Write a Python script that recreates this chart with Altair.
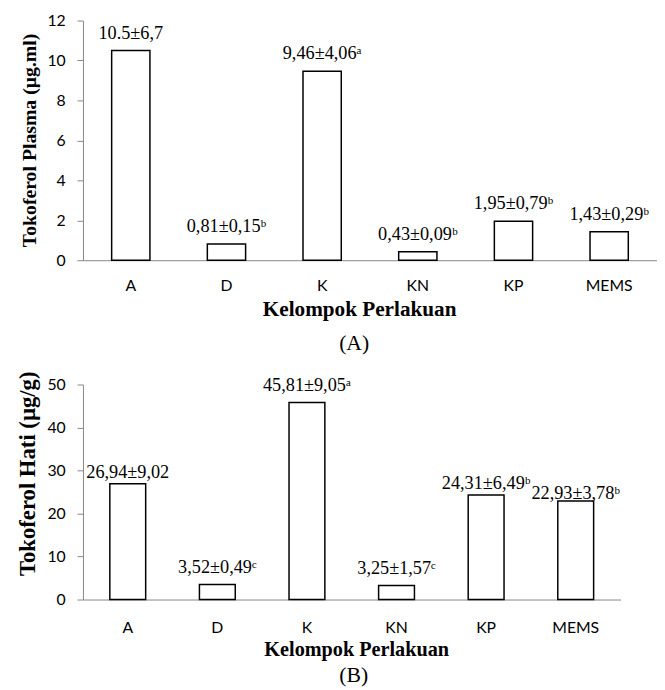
import altair as alt
import pandas as pd

groups = ["A", "D", "K", "KN", "KP", "MEMS"]
plasma = [10.5, 0.81, 9.46, 0.43, 1.95, 1.43]
plasma_labels = ["10.5±6,7", "0,81±0,15ᵇ", "9,46±4,06ᵃ", "0,43±0,09ᵇ", "1,95±0,79ᵇ", "1,43±0,29ᵇ"]
hati = [26.94, 3.52, 45.81, 3.25, 24.31, 22.93]
hati_labels = ["26,94±9,02", "3,52±0,49ᶜ", "45,81±9,05ᵃ", "3,25±1,57ᶜ", "24,31±6,49ᵇ", "22,93±3,78ᵇ"]
plasma_ticks = [0, 2, 4, 6, 8, 10, 12]
hati_ticks = [0, 10, 20, 30, 40, 50]

df_a = pd.DataFrame({"g": groups, "v": plasma, "lab": plasma_labels})
df_b = pd.DataFrame({"g": groups, "v": hati, "lab": hati_labels})

SERIF = "Liberation Serif"
SANS = "Lato"
GRAY = "#868686"


def panel(df, ytitle, ymax, ticks, w, h, xtitle_x, ytitle_y, xtitle_size, ytitle_size,
          label_pad, tag, tag_dx, tag_offset, low_groups, lower_groups):
    xs = alt.X("g:N", sort=groups,
               scale=alt.Scale(paddingInner=0.6, paddingOuter=0.3),
               axis=alt.Axis(title="Kelompok Perlakuan", labelAngle=0, ticks=False,
                             labelPadding=label_pad, titlePadding=5, titleX=xtitle_x,
                             titleAlign="center", titleFontSize=xtitle_size))
    ys = alt.Y("v:Q", scale=alt.Scale(domain=[0, ymax], nice=False),
               axis=alt.Axis(title=ytitle, values=ticks, grid=False, tickSize=6,
                             labelPadding=12, titlePadding=8, titleY=ytitle_y,
                             titleFontSize=ytitle_size))
    base = alt.Chart(df).encode(x=xs, y=ys)
    bars = base.mark_bar(fill="white", stroke="black", strokeWidth=1.5)
    keep = [g for g in groups if g not in low_groups and g not in lower_groups]
    t1 = base.transform_filter(alt.FieldOneOfPredicate(field="g", oneOf=keep)).mark_text(
        font=SERIF, fontSize=18.5, dy=-18, baseline="middle", color="black").encode(text="lab:N")
    layers = [bars, t1]
    if low_groups:
        layers.append(base.transform_filter(alt.FieldOneOfPredicate(field="g", oneOf=low_groups)).mark_text(
            font=SERIF, fontSize=18.5, dy=-12, baseline="middle", color="black").encode(text="lab:N"))
    if lower_groups:
        layers.append(base.transform_filter(alt.FieldOneOfPredicate(field="g", oneOf=lower_groups)).mark_text(
            font=SERIF, fontSize=18.5, dy=-8, baseline="middle", color="black").encode(text="lab:N"))
    return alt.layer(*layers).properties(
        width=w, height=h,
        title=alt.TitleParams(tag, orient="bottom", font=SERIF, fontSize=22,
                              fontWeight="normal", anchor="middle", dx=tag_dx,
                              offset=tag_offset))


top = panel(df_a, "Tokoferol Plasma (µg.ml)", 12, plasma_ticks, 582, 243, 280, 121,
            21.5, 20, 18, "(A)", -16, 13, [], [])
bottom = panel(df_b, "Tokoferol Hati (µg/g)", 50, hati_ticks, 545, 218, 277, 90,
               20.5, 23, 20, "(B)", 2, 5, ["A", "KP"], ["MEMS"])

chart = alt.vconcat(top, bottom, spacing=17).properties(
    padding={"left": 8, "top": 0, "right": 0, "bottom": 0}
).configure_view(stroke=None).configure_axis(
    domainColor=GRAY, tickColor=GRAY, labelFont=SANS, labelFontSize=16,
    labelColor="black", titleFont=SERIF, titleFontWeight="bold",
    titleColor="black", domainWidth=1
)

chart.save("out.html", embed_options={"renderer": "svg", "actions": False})
